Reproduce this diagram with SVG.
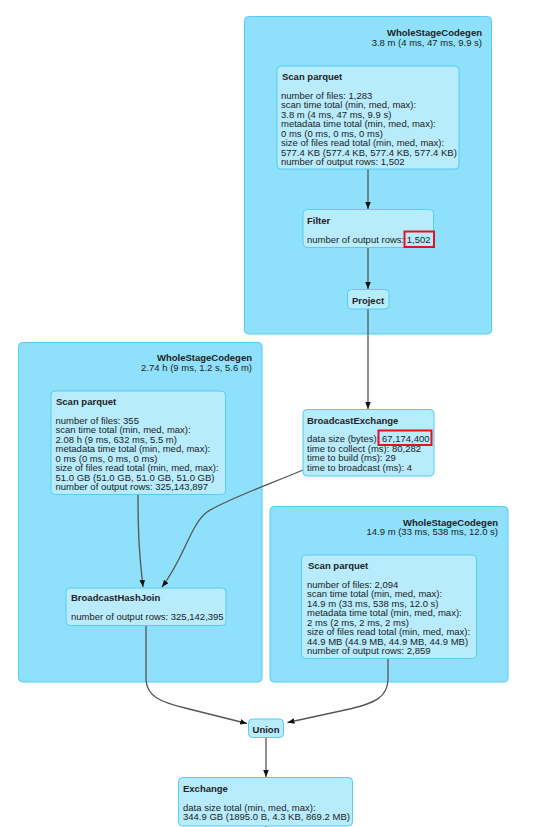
<svg xmlns="http://www.w3.org/2000/svg" width="535" height="827" viewBox="0 0 535 827">
<defs>
<marker id="arr" viewBox="0 0 10 8" refX="10" refY="4" markerWidth="7" markerHeight="5.6" markerUnits="userSpaceOnUse" orient="auto">
<path d="M0,0 L10,4 L0,8 z" fill="#111"/>
</marker>
<style>
.cluster{fill:#8fe1fb;stroke:#55ccf3;stroke-width:1}
.node{fill:#b8ecfd;stroke:#55ccf3;stroke-width:1}
text{font-family:"Liberation Sans",Arial,sans-serif;font-size:9.5px;fill:#222}
.t{font-weight:bold}
.r{text-anchor:end}
.c{text-anchor:middle}
.edge{fill:none;stroke:#555;stroke-width:1.3}
.hl{fill:none;stroke:#e8101a;stroke-width:2}
</style>
</defs>
<rect width="535" height="827" fill="#fff"/>

<g id="cluster1">
<rect class="cluster" x="244.5" y="16.5" width="247" height="317.5" rx="4"/>
<text class="t r" x="482" y="35.5">WholeStageCodegen</text>
<text class="r" x="482" y="46">3.8 m (4 ms, 47 ms, 9.9 s)</text>
</g>
<g id="cluster2">
<rect class="cluster" x="18.5" y="342.5" width="243.5" height="339.5" rx="4"/>
<text class="t r" x="252" y="360.5">WholeStageCodegen</text>
<text class="r" x="252" y="371">2.74 h (9 ms, 1.2 s, 5.6 m)</text>
</g>
<g id="cluster3">
<rect class="cluster" x="270" y="506.5" width="238" height="175.5" rx="4"/>
<text class="t r" x="498" y="525.5">WholeStageCodegen</text>
<text class="r" x="498" y="535">14.9 m (33 ms, 538 ms, 12.0 s)</text>
</g>

<g id="connectors">
<path class="edge" d="M368,169 L368,209" marker-end="url(#arr)"/>
<path class="edge" d="M368,247.5 L368,289" marker-end="url(#arr)"/>
<path class="edge" d="M368,309 L368,409" marker-end="url(#arr)"/>
<path class="edge" d="M138,495 C138,540 140,560 143,587" marker-end="url(#arr)"/>
<path class="edge" d="M303,470 C270,484 225,500 207,512 C190,525 185,557 162,587" marker-end="url(#arr)"/>
<path class="edge" d="M146,626 L146,680 C147,696 160,702 185,708 L247,723.5" marker-end="url(#arr)"/>
<path class="edge" d="M388,658.5 L388,680 C387,696 378,703 345,710 L287.5,722.5" marker-end="url(#arr)"/>
<path class="edge" d="M266,738 L266,777" marker-end="url(#arr)"/>
<path class="edge" d="M266,826 L266,827"/>
</g>

<g id="scan1">
<rect class="node" x="277" y="66" width="182" height="103" rx="4"/>
<text class="t" x="282" y="79.5">Scan parquet</text>
<text x="281" y="98.5">number of files: 1,283<tspan x="281" dy="9.5">scan time total (min, med, max):</tspan><tspan x="281" dy="9.5">3.8 m (4 ms, 47 ms, 9.9 s)</tspan><tspan x="281" dy="9.5">metadata time total (min, med, max):</tspan><tspan x="281" dy="9.5">0 ms (0 ms, 0 ms, 0 ms)</tspan><tspan x="281" dy="9.5">size of files read total (min, med, max):</tspan><tspan x="281" dy="9.5">577.4 KB (577.4 KB, 577.4 KB, 577.4 KB)</tspan><tspan x="281" dy="9.5">number of output rows: 1,502</tspan></text>
</g>

<g id="filter">
<rect class="node" x="303" y="209.5" width="130.5" height="38" rx="4"/>
<text class="t" x="307" y="223.5">Filter</text>
<text x="307" y="242.5">number of output rows: 1,502</text>
<rect class="hl" x="404.5" y="231.5" width="29.5" height="15.5"/>
</g>

<g id="project">
<rect class="node" x="347.5" y="289.5" width="41.5" height="19.5" rx="4"/>
<text class="t c" x="368" y="303.5">Project</text>
</g>

<g id="broadcastExchange">
<rect class="node" x="303" y="409.5" width="131" height="66.5" rx="4"/>
<text class="t" x="307" y="423.5">BroadcastExchange</text>
<text x="307" y="442">data size (bytes): 67,174,400<tspan x="307" dy="9.5">time to collect (ms): 80,282</tspan><tspan x="307" dy="9.5">time to build (ms): 29</tspan><tspan x="307" dy="9.5">time to broadcast (ms): 4</tspan></text>
<rect class="hl" x="378.5" y="430.5" width="53" height="14.5"/>
</g>

<g id="scan2">
<rect class="node" x="51" y="391" width="174.5" height="103.5" rx="4"/>
<text class="t" x="56" y="404.5">Scan parquet</text>
<text x="55.5" y="423.5">number of files: 355<tspan x="55.5" dy="9.5">scan time total (min, med, max):</tspan><tspan x="55.5" dy="9.5">2.08 h (9 ms, 632 ms, 5.5 m)</tspan><tspan x="55.5" dy="9.5">metadata time total (min, med, max):</tspan><tspan x="55.5" dy="9.5">0 ms (0 ms, 0 ms, 0 ms)</tspan><tspan x="55.5" dy="9.5">size of files read total (min, med, max):</tspan><tspan x="55.5" dy="9.5">51.0 GB (51.0 GB, 51.0 GB, 51.0 GB)</tspan><tspan x="55.5" dy="9.5">number of output rows: 325,143,897</tspan></text>
</g>

<g id="broadcastHashJoin">
<rect class="node" x="66" y="588" width="160" height="37.5" rx="4"/>
<text class="t" x="71" y="601">BroadcastHashJoin</text>
<text x="71" y="620">number of output rows: 325,142,395</text>
</g>

<g id="scan3">
<rect class="node" x="301.5" y="555" width="175" height="103.5" rx="4"/>
<text class="t" x="308" y="568.5">Scan parquet</text>
<text x="307" y="587.5">number of files: 2,094<tspan x="307" dy="9.5">scan time total (min, med, max):</tspan><tspan x="307" dy="9.5">14.9 m (33 ms, 538 ms, 12.0 s)</tspan><tspan x="307" dy="9.5">metadata time total (min, med, max):</tspan><tspan x="307" dy="9.5">2 ms (2 ms, 2 ms, 2 ms)</tspan><tspan x="307" dy="9.5">size of files read total (min, med, max):</tspan><tspan x="307" dy="9.5">44.9 MB (44.9 MB, 44.9 MB, 44.9 MB)</tspan><tspan x="307" dy="9.5">number of output rows: 2,859</tspan></text>
</g>

<g id="union">
<rect class="node" x="248.5" y="719" width="35" height="18.5" rx="4"/>
<text class="t c" x="266" y="732.5">Union</text>
</g>

<g id="exchange">
<rect class="node" x="178.5" y="777.5" width="174" height="48.5" rx="4"/>
<text class="t" x="183" y="791.5">Exchange</text>
<text x="183" y="810.5">data size total (min, med, max):<tspan x="183" dy="9.5">344.9 GB (1895.0 B, 4.3 KB, 869.2 MB)</tspan></text>
</g>
</svg>
